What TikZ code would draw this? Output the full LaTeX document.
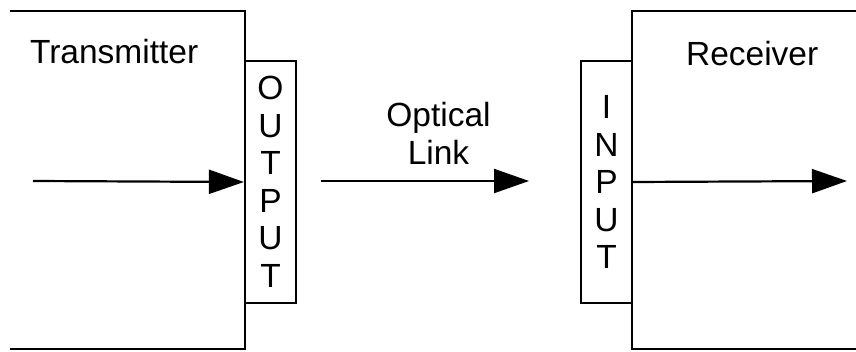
\documentclass[tikz,border=0pt]{standalone}
\usepackage{fontspec}
\setmainfont{Liberation Sans}
\usetikzlibrary{arrows.meta}

\begin{document}
\begin{tikzpicture}[x=1pt, y=1pt, line width=2.2pt, every node/.style={font=\fontsize{33.5}{37.5}\selectfont, inner sep=0pt}, port/.style={draw, minimum width=51pt, minimum height=242pt, align=center}, link/.style={-{Triangle[length=35pt,width=24pt]}}]
			\useasboundingbox (0,0) rectangle (856,351);
			
			\draw (10,340) -- (245,340) -- (245,2) -- (10,2);
			\draw (856,340) -- (632,340) -- (632,2) -- (856,2);
			
			\node[anchor=base west] (tx) at (29,287){Transmitter};
			\node[anchor=base west] (rx) at (685,285){Receiver};
			\node[port] (out) at (270.5,169){O\\U\\T\\P\\U\\T};
			\node[port] (in) at (606.5,169){I\\N\\P\\U\\T};
			\node[align=center] (lbl) at (438.5,217.5){Optical\\Link};
			
			\coordinate (src) at (33,170);
			\coordinate (ls) at (321,170);
			\coordinate (le) at (529,170);
			\coordinate (sink) at (847,170);
			
			\draw[link] (src) -- (out.west);
			\draw[link] (ls) -- (le);
			\draw[link] (in.east) -- (sink);
			\end{tikzpicture}
\end{document}
